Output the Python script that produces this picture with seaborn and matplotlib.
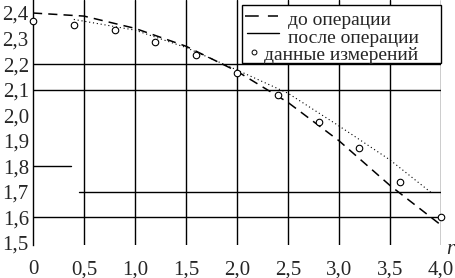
import numpy as np
import pandas as pd
import seaborn as sns
import matplotlib.pyplot as plt
from matplotlib.lines import Line2D
from matplotlib.patches import Rectangle

# до операции (dashed curve)
r_before = [0.0, 0.5, 1.0, 1.5, 2.0, 2.5, 3.0, 3.5, 4.0]
v_before = [2.40, 2.388, 2.34, 2.27, 2.172, 2.05, 1.90, 1.725, 1.57]

# после операции (thin dotted curve)
r_after = [0.4, 1.0, 1.5, 2.0, 2.5, 3.0, 3.5, 3.91]
v_after = [2.375, 2.333, 2.265, 2.177, 2.086, 1.958, 1.825, 1.695]

# данные измерений (circles)
r_meas = [0.0, 0.4, 0.8, 1.2, 1.6, 2.0, 2.4, 2.8, 3.2, 3.6, 4.0]
v_meas = [2.368, 2.355, 2.333, 2.288, 2.236, 2.164, 2.079, 1.975, 1.87, 1.74, 1.603]

x_ticks = [0, 0.5, 1.0, 1.5, 2.0, 2.5, 3.0, 3.5, 4.0]
x_labels = ["0", "0,5", "1,0", "1,5", "2,0", "2,5", "3,0", "3,5", "4,0"]
y_ticks = [1.5, 1.6, 1.7, 1.8, 1.9, 2.0, 2.1, 2.2, 2.3, 2.4]
y_labels = ["1,5", "1,6", "1,7", "1,8", "1,9", "2,0", "2,1", "2,2", "2,3", "2,4"]

legend_labels = ["до операции", "после операции", "данные измерений"]

sns.set_style("white")
plt.rcParams['font.family'] = ['Liberation Serif', 'DejaVu Serif']

W, H = 456, 278
fig = plt.figure(figsize=(W / 100, H / 100), dpi=100)
ax = fig.add_axes([33 / W, 1 - 245 / H, 408 / W, 245 / H])


def px(x, y):
    # pixel position -> figure fraction
    return x / W, 1 - y / H


df_b = pd.DataFrame({"r": r_before, "v": v_before})
df_a = pd.DataFrame({"r": r_after, "v": v_after})
df_m = pd.DataFrame({"r": r_meas, "v": v_meas})

# grid (as in the original, partly broken)
for xv in x_ticks[1:]:
    ax.axvline(xv, color="black", lw=1.0, zorder=1)
for yv in [2.2, 2.1, 1.6]:
    ax.axhline(yv, color="black", lw=1.0, zorder=1)
ax.plot([0.45, 4.0], [1.7, 1.7], color="black", lw=1.0, zorder=1)
ax.plot([0.0, 0.37], [1.8, 1.8], color="black", lw=1.0, zorder=1)

sns.lineplot(data=df_b, x="r", y="v", ax=ax, color="black", lw=1.1,
             linestyle=(0, (6, 4)), zorder=3)
sns.lineplot(data=df_a, x="r", y="v", ax=ax, color="black", lw=0.8,
             linestyle=(0, (1, 2.5)), zorder=3)
sns.scatterplot(data=df_m, x="r", y="v", ax=ax, marker="o", s=22,
                facecolor="white", edgecolor="black", linewidth=0.8, zorder=4,
                clip_on=False)

ax.set_xlim(0, 4.0)
ax.set_ylim(1.492, 2.451)
ax.set_xticks(x_ticks)
ax.set_xticklabels(x_labels, fontsize=15)
ax.set_yticks(y_ticks)
ax.set_yticklabels(y_labels, fontsize=15)
ax.tick_params(axis="x", length=0, pad=11)
ax.tick_params(axis="y", length=0, pad=3)
ax.set_xlabel("")
ax.set_ylabel("")
for s in ["top", "right", "bottom"]:
    ax.spines[s].set_visible(False)
ax.spines["left"].set_color("black")
ax.spines["left"].set_linewidth(1.0)

fig.text(*px(446, 259), "r", fontsize=15, style="italic", ha="left", va="bottom")

# legend box drawn by hand to match the original layout
x0, y0 = px(242, 63)
x1, y1 = px(441, 5)
fig.add_artist(Rectangle((x0, y0), x1 - x0, y1 - y0, transform=fig.transFigure,
                         facecolor="white", edgecolor="black", lw=1.0, zorder=5))
fig.add_artist(Line2D([px(245, 0)[0], px(278, 0)[0]], [px(0, 16)[1]] * 2,
                      transform=fig.transFigure, color="black", lw=1.1,
                      linestyle=(0, (9, 6)), zorder=6))
fig.add_artist(Line2D([px(247, 0)[0], px(279, 0)[0]], [px(0, 33)[1]] * 2,
                      transform=fig.transFigure, color="black", lw=1.0, zorder=6))
fig.add_artist(Line2D([px(254, 0)[0]], [px(0, 52)[1]], transform=fig.transFigure,
                      marker="o", markersize=3.5, markerfacecolor="white",
                      markeredgecolor="black", markeredgewidth=0.7,
                      linestyle="none", zorder=6))
for (lx, ly), lab in zip([(288, 25), (288, 43), (264, 60)], legend_labels):
    fig.text(*px(lx, ly), lab, fontsize=14, ha="left", va="baseline", zorder=7)

fig.savefig("out.png", dpi=100)
